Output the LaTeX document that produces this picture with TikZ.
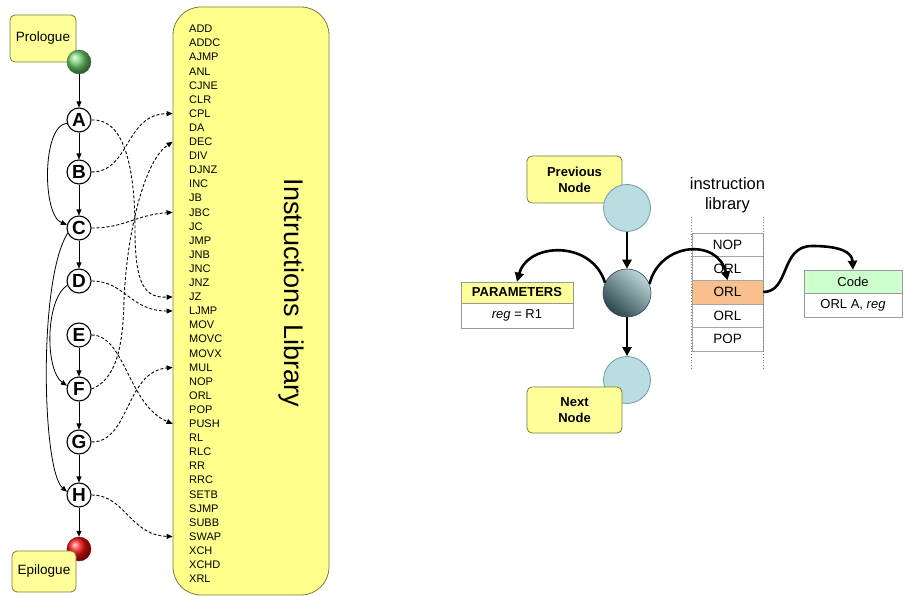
\documentclass[tikz,border=0pt]{standalone}
\usepackage{fontspec}
\setmainfont{Liberation Sans}
\usetikzlibrary{arrows.meta,shapes.geometric}
\definecolor{yel}{HTML}{FFFF99}
\definecolor{libyel}{HTML}{FFFF8C}
\definecolor{olivebd}{HTML}{7A7A40}
\definecolor{lblue}{HTML}{B9DDE1}
\definecolor{lblueb}{HTML}{6E9CA1}
\definecolor{dteal}{HTML}{2C474C}
\definecolor{lteal}{HTML}{BCD8DB}
\definecolor{orng}{HTML}{F9C08E}
\definecolor{lgreen}{HTML}{CCFFCC}
\definecolor{gball}{HTML}{6FCF6F}
\definecolor{rball}{HTML}{F01010}
\begin{document}
\begin{tikzpicture}[x=1pt,y=-1pt,
  ybox/.style={draw=olivebd, fill=yel, rounded corners=5pt, line width=0.8pt, align=center, inner sep=1pt},
  letter/.style={circle, draw, fill=white, line width=1.1pt, minimum size=24pt, inner sep=0pt, font=\bfseries\fontsize{19}{19}\selectfont},
  item/.style={anchor=west, inner sep=0pt, font=\fontsize{11}{11}\selectfont},
  sarr/.style={line width=0.8pt, -{Triangle[length=6pt,width=5pt]}},
  darr/.style={line width=0.9pt, dash pattern=on 3pt off 2pt, -{Triangle[length=6pt,width=5pt]}},
  tarr/.style={line width=2.6pt, -{Triangle[length=9pt,width=9pt]}},
  bcirc/.style={circle, minimum size=47pt, inner sep=0pt, draw=lblueb, fill=lblue, line width=0.8pt},
  trow/.style={minimum width=71pt, minimum height=23.6pt, inner sep=0pt, draw=gray!70, font=\fontsize{13.5}{13.5}\selectfont},
  tcell/.style={inner sep=0pt, draw=gray!80, line width=0.6pt, font=\fontsize{13}{13}\selectfont}
]
\path[use as bounding box] (0,0) rectangle (903,596);

% ---------- left part ----------
\node[ybox, minimum width=66pt, minimum height=47pt, font=\fontsize{13.5}{13.5}\selectfont] (pro) at (43,38.5) {Prologue};
\node[circle, minimum size=24pt, inner sep=0pt, shading=ball, ball color=gball, draw=gball!60!black, line width=0.5pt] (start) at (79,62) {};

\node[ybox, rounded corners=28pt, fill=libyel, minimum width=156pt, minimum height=588pt] (lib) at (251,301) {};
\node[rotate=-90, font=\fontsize{27}{27}\selectfont] (libtitle) at (291,293) {Instructions Library};
\foreach \n [count=\i] in {ADD,ADDC,AJMP,ANL,CJNE,CLR,CPL,DA,DEC,DIV,DJNZ,INC,JB,JBC,JC,JMP,JNB,JNC,JNZ,JZ,LJMP,MOV,MOVC,MOVX,MUL,NOP,ORL,POP,PUSH,RL,RLC,RR,RRC,SETB,SJMP,SUBB,SWAP,XCH,XCHD,XRL}{
  \pgfmathsetmacro\yy{29+(\i-1)*14.1}
  \node[item] (i\i) at (189,\yy) {\n};
}

\node[letter] (A) at (79,120) {A};
\node[letter] (B) at (79,172) {B};
\node[letter] (C) at (79,228) {C};
\node[letter] (D) at (79,281) {D};
\node[letter] (E) at (79,335) {E};
\node[letter] (F) at (79,389) {F};
\node[letter] (G) at (79,442) {G};
\node[letter] (H) at (79,495) {H};

\node[circle, minimum size=24pt, inner sep=0pt, shading=ball, ball color=rball, draw=rball!60!black, line width=0.5pt] (stop) at (79,549) {};
\node[ybox, minimum width=64pt, minimum height=41pt, font=\fontsize{13.5}{13.5}\selectfont] (epi) at (44,571.5) {Epilogue};

% straight flow
\draw[sarr] (start) -- (A);
\draw[sarr] (A) -- (B);
\draw[sarr] (B) -- (C);
\draw[sarr] (C) -- (D);
\draw[sarr] (E) -- (F);
\draw[sarr] (F) -- (G);
\draw[sarr] (G) -- (H);
\draw[sarr] (H) -- (stop);

% jumps
\draw[sarr] (A.195) .. controls (42,125) and (42,215) .. (C.165);
\draw[sarr] (C.205) .. controls (38,280) and (42,470) .. (H.165);
\draw[sarr] (D.200) .. controls (45,300) and (45,370) .. (F.165);

% library references
\draw[darr] (A.east) .. controls (125,118) and (135,170) .. (135,230) .. controls (135,285) and (145,298) .. (lib.west |- i20);
\draw[darr] (B.east) .. controls (130,172) and (125,114) .. (lib.west |- i7);
\draw[darr] (C.east) .. controls (125,228) and (135,215) .. (lib.west |- i14);
\draw[darr] (D.east) .. controls (125,281) and (130,311) .. (lib.west |- i21);
\draw[darr] (E.east) .. controls (125,335) and (128,405) .. (lib.west |- i29);
\draw[darr] (F.east) .. controls (115,380) and (123,350) .. (124,300) .. controls (127,230) and (145,160) .. (lib.west |- i9);
\draw[darr] (G.east) .. controls (130,442) and (125,372) .. (lib.west |- i25);
\draw[darr] (H.east) .. controls (125,495) and (130,535) .. (lib.west |- i37);

% ---------- right part ----------
\node[ybox, minimum width=95pt, minimum height=47pt, font=\bfseries\fontsize{13}{16}\selectfont] (prev) at (574.5,179.5) {Previous\\Node};
\node[bcirc] (pc) at (627,208) {};
\node[circle, minimum size=48pt, inner sep=0pt, draw=dteal, line width=0.6pt, shading=axis, top color=lteal, bottom color=dteal, shading angle=-40] (cc) at (627,293) {};
\node[bcirc] (nc) at (627,380) {};
\node[ybox, minimum width=95pt, minimum height=46pt, font=\bfseries\fontsize{13}{16}\selectfont] (next) at (574.5,410) {Next\\Node};

\draw[tarr] (pc) -- (cc);
\draw[tarr] (cc) -- (nc);

\node[tcell, fill=yel, minimum width=112pt, minimum height=21pt, font=\bfseries\fontsize{13}{13}\selectfont] (parH) at (517,292.5) {PARAMETERS};
\node[tcell, fill=white, minimum width=112pt, minimum height=25pt] (parB) at (517,315.5) {\textit{reg} = R1};

\node[align=center, font=\fontsize{16.5}{20}\selectfont] (ltitle) at (727.5,195) {instruction\\library};
\node[trow] (r1) at (727.5,244.8) {NOP};
\node[trow] (r2) at (727.5,268.4) {ORL};
\node[trow, fill=orng] (r3) at (727.5,292) {ORL};
\node[trow] (r4) at (727.5,315.6) {ORL};
\node[trow] (r5) at (727.5,339.2) {POP};
\draw[gray, dotted, line width=0.8pt] (r1.north west) ++(0,-16) -- (r5.south west) -- ++(0,17);
\draw[gray, dotted, line width=0.8pt] (r1.north east) ++(0,-16) -- (r5.south east) -- ++(0,17);

\node[tcell, fill=lgreen, minimum width=98pt, minimum height=23pt] (codeH) at (853,281.5) {Code};
\node[tcell, fill=white, minimum width=98pt, minimum height=24pt] (codeB) at (853,305) {ORL A, \textit{reg}};

\draw[tarr] (cc.155) .. controls (592,240) and (528,242) .. (parH.north);
\draw[tarr] (cc.22) .. controls (660,242) and (718,238) .. (r2.south);
\draw[tarr] (r3.east) .. controls (790,292) and (780,246) .. (812,246) .. controls (840,246) and (852,252) .. (codeH.north);
\end{tikzpicture}
\end{document}
